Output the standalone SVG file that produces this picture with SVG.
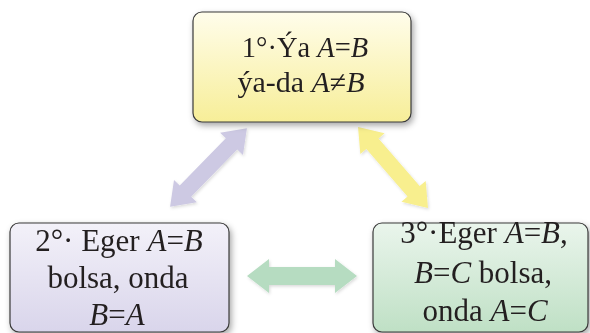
<svg xmlns="http://www.w3.org/2000/svg" width="590" height="333" viewBox="0 0 590 333">
<defs>
<linearGradient id="gY" x1="0" y1="0" x2="0" y2="1"><stop offset="0" stop-color="#fffdeb"/><stop offset="1" stop-color="#f7ee98"/></linearGradient>
<linearGradient id="gL" x1="0" y1="0" x2="0" y2="1"><stop offset="0" stop-color="#f3f1f9"/><stop offset="1" stop-color="#d9d5eb"/></linearGradient>
<linearGradient id="gG" x1="0" y1="0" x2="0" y2="1"><stop offset="0" stop-color="#eaf5ec"/><stop offset="1" stop-color="#bfe0c5"/></linearGradient>
<filter id="sh" x="-10%" y="-10%" width="125%" height="130%"><feDropShadow dx="2" dy="3" stdDeviation="3" flood-color="#000" flood-opacity="0.35"/></filter>
<filter id="ash" x="-20%" y="-20%" width="140%" height="140%"><feDropShadow dx="1" dy="1.5" stdDeviation="1.5" flood-color="#000" flood-opacity="0.15"/></filter>
</defs>
<style>
.box{stroke:#3a3a3a;stroke-width:1.2;filter:url(#sh)}
.t{font-family:"Liberation Serif","Times New Roman",serif;font-size:31px;fill:#231f20;text-anchor:middle}
.s{font-size:30px}
.s2{font-size:28.5px}
.i{font-style:italic}
</style>
<g id="connectors" filter="url(#ash)">
<path fill="#cdc9e3" transform="translate(208.5,167.5) rotate(-45.7)" d="M-55 0 L-33 -16 L-33 -8 L33 -8 L33 -16 L55 0 L33 16 L33 8 L-33 8 L-33 16 Z"/>
<path fill="#f8ef8e" transform="translate(393,167.5) rotate(49.2)" d="M-53.5 0 L-31.5 -16 L-31.5 -8 L31.5 -8 L31.5 -16 L53.5 0 L31.5 16 L31.5 8 L-31.5 8 L-31.5 16 Z"/>
<path fill="#b6dcc1" transform="translate(302,276)" d="M-55 0 L-33 -17 L-33 -9 L33 -9 L33 -17 L55 0 L33 17 L33 9 L-33 9 L-33 17 Z"/>
</g>
<g id="node1">
<rect class="box" x="193" y="12" width="218" height="110" rx="9" fill="url(#gY)"/>
<text class="t s2" x="305" y="57">1°·Ýa <tspan class="i">A</tspan>=<tspan class="i">B</tspan></text>
<text class="t s" x="301" y="92">ýa-da <tspan class="i">A</tspan>≠<tspan class="i">B</tspan></text>
</g>
<g id="node2">
<rect class="box" x="10" y="223" width="219" height="109" rx="9" fill="url(#gL)"/>
<text class="t" x="119" y="251">2°· Eger <tspan class="i">A</tspan>=<tspan class="i">B</tspan></text>
<text class="t" x="118" y="288">bolsa, onda</text>
<text class="t" x="117" y="325"><tspan class="i">B</tspan>=<tspan class="i">A</tspan></text>
</g>
<g id="node3">
<rect class="box" x="373" y="223" width="215" height="109" rx="9" fill="url(#gG)"/>
<text class="t" x="484" y="243">3°·Eger <tspan class="i">A</tspan>=<tspan class="i">B</tspan>,</text>
<text class="t" x="483" y="283"><tspan class="i">B</tspan>=<tspan class="i">C</tspan> bolsa,</text>
<text class="t" x="485" y="321">onda <tspan class="i">A</tspan>=<tspan class="i">C</tspan></text>
</g>
</svg>
